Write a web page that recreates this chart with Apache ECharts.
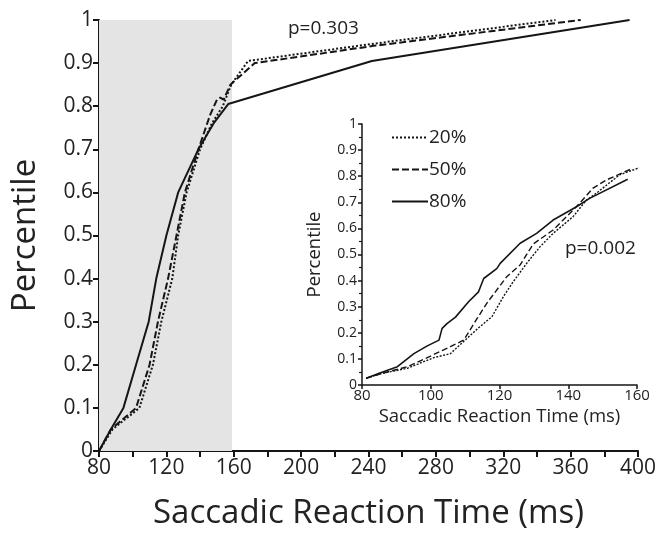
<!DOCTYPE html>
<html>
<head>
<meta charset="utf-8">
<script src="https://cdn.jsdelivr.net/npm/echarts@6/dist/echarts.min.js"></script>
<style>
html,body{margin:0;padding:0;background:#fff;}
#main{width:660px;height:535px;}
</style>
</head>
<body>
<div id="main"></div>
<script>
// main panel: cumulative distributions [ms, percentile]
var main20 = [[80,0],[88,0.05],[104,0.10],[112,0.20],[117,0.30],[123.5,0.40],[127,0.50],[132,0.60],[140,0.70],[147,0.76],[153.5,0.80],[158.5,0.85],[168.5,0.905],[243,0.945],[351,1.0]];
var main50 = [[80,0],[87,0.05],[102,0.10],[110,0.20],[115,0.30],[121,0.40],[126,0.50],[131,0.60],[139,0.70],[146,0.78],[150,0.815],[152,0.82],[154,0.815],[158,0.85],[172.5,0.90],[243,0.94],[366,1.0]];
var main80 = [[80,0],[87,0.05],[94.5,0.10],[102,0.20],[109.5,0.30],[114,0.40],[120,0.50],[127,0.60],[139,0.70],[148,0.76],[156.7,0.805],[242,0.905],[395,1.0]];

// inset panel
var inset20 = [[81.2,0.026],[86,0.045],[93.2,0.064],[100.9,0.105],[105.7,0.12],[110,0.172],[114,0.22],[117.8,0.262],[121.2,0.34],[124,0.396],[127.9,0.466],[131.8,0.53],[135.6,0.581],[141.4,0.645],[145.3,0.709],[148.1,0.734],[154.9,0.805],[161.6,0.837]];
var inset50 = [[81.2,0.026],[86,0.045],[93.2,0.07],[99,0.105],[105.7,0.147],[109.6,0.172],[113.5,0.255],[116.3,0.313],[122.1,0.415],[126,0.46],[129.8,0.54],[135.6,0.594],[139.5,0.645],[143.3,0.696],[147.2,0.754],[151,0.785],[158.7,0.83]];
var inset80 = [[81.2,0.026],[85,0.045],[90.3,0.07],[95.1,0.12],[99,0.15],[102.4,0.172],[103.3,0.217],[104.8,0.236],[107.2,0.26],[111,0.319],[113.9,0.357],[115.4,0.408],[119.2,0.446],[120.2,0.466],[126,0.543],[130.8,0.581],[135.6,0.632],[142.4,0.683],[146.2,0.715],[157.3,0.788]];

var seriesNames = ['20%','50%','80%'];
var shadeRange = [80,159];

var ink = '#151515';
var font = 'Open Sans';

function lineSeries(name, data, axis, dash, width){
    return {
        name: name,
        type: 'line',
        xAxisIndex: axis,
        yAxisIndex: axis,
        data: data,
        symbol: 'none',
        silent: true,
        animation: false,
        itemStyle: {color: ink},
        lineStyle: {color: ink, width: width, type: dash}
    };
}

var myChart = echarts.init(document.getElementById('main'), null, {renderer: 'canvas'});

var option = {
    backgroundColor: '#fff',
    animation: false,
    textStyle: {fontFamily: font, color: '#222'},
    grid: [
        {left: 99, right: 22, top: 20, bottom: 79},
        {left: 362, right: 23, top: 124, bottom: 150}
    ],
    legend: {
        data: seriesNames,
        orient: 'vertical',
        left: 386,
        top: 123,
        itemWidth: 36,
        itemHeight: 14,
        itemGap: 13,
        selectedMode: false,
        itemStyle: {opacity: 0},
        textStyle: {fontFamily: font, fontSize: 19, color: '#222', padding: [0,0,0,-4]}
    },
    xAxis: [{
        gridIndex: 0,
        type: 'value',
        min: 80, max: 400, interval: 20,
        name: 'Saccadic Reaction Time (ms)',
        nameLocation: 'middle',
        nameGap: 46,
        nameTextStyle: {fontSize: 33, color: '#222'},
        splitLine: {show: false},
        axisLine: {onZero: false, lineStyle: {color: ink, width: 2}},
        axisTick: {length: 6, lineStyle: {color: ink, width: 2}},
        axisLabel: {
            fontSize: 21, color: '#222', margin: 7,
            formatter: function(v){ return v % 40 === 0 ? v : ''; }
        }
    }, {
        gridIndex: 1,
        type: 'value',
        min: 80, max: 160, interval: 20,
        name: 'Saccadic Reaction Time (ms)',
        nameLocation: 'middle',
        nameGap: 22,
        nameTextStyle: {fontSize: 18.5, color: '#222'},
        splitLine: {show: false},
        axisLine: {onZero: false, lineStyle: {color: ink, width: 1.5}},
        axisTick: {length: 4, lineStyle: {color: ink, width: 1.5}},
        axisLabel: {fontSize: 15, color: '#222', margin: 3}
    }],
    yAxis: [{
        gridIndex: 0,
        type: 'value',
        min: 0, max: 1, interval: 0.1,
        name: 'Percentile',
        nameLocation: 'middle',
        nameGap: 57,
        nameTextStyle: {fontSize: 33, color: '#222'},
        splitLine: {show: false},
        axisLine: {show: true, onZero: false, lineStyle: {color: ink, width: 2}},
        axisTick: {show: true, length: 6, lineStyle: {color: ink, width: 2}},
        axisLabel: {fontSize: 21, color: '#222', margin: 6}
    }, {
        gridIndex: 1,
        type: 'value',
        min: 0, max: 1, interval: 0.1,
        name: 'Percentile',
        nameLocation: 'middle',
        nameGap: 38,
        nameTextStyle: {fontSize: 18.5, color: '#222'},
        splitLine: {show: false},
        axisLine: {show: true, onZero: false, lineStyle: {color: ink, width: 1.5}},
        axisTick: {show: true, length: 4, lineStyle: {color: ink, width: 1.5}},
        minorTick: {show: true, splitNumber: 2, length: 3, lineStyle: {color: ink, width: 1.2}},
        axisLabel: {fontSize: 14, color: '#222', margin: 5}
    }],
    graphic: [
        {type: 'text', left: 288, top: 19, style: {text: 'p=0.303', fontFamily: font, fontSize: 19, fill: '#222'}},
        {type: 'text', left: 565, top: 239, style: {text: 'p=0.002', fontFamily: font, fontSize: 19, fill: '#222'}}
    ],
    series: [
        (function(){
            var s = lineSeries('20%', main20, 0, [2,2], 2);
            s.markArea = {
                silent: true,
                itemStyle: {color: '#e4e4e4'},
                data: [[{xAxis: shadeRange[0], yAxis: 0}, {xAxis: shadeRange[1], yAxis: 1}]]
            };
            return s;
        })(),
        lineSeries('50%', main50, 0, [7,3], 2),
        lineSeries('80%', main80, 0, 'solid', 2),
        lineSeries('20%', inset20, 1, [2,1.5], 1.4),
        lineSeries('50%', inset50, 1, [6,3], 1.4),
        lineSeries('80%', inset80, 1, 'solid', 1.6)
    ]
};

myChart.setOption(option);
</script>
</body>
</html>
